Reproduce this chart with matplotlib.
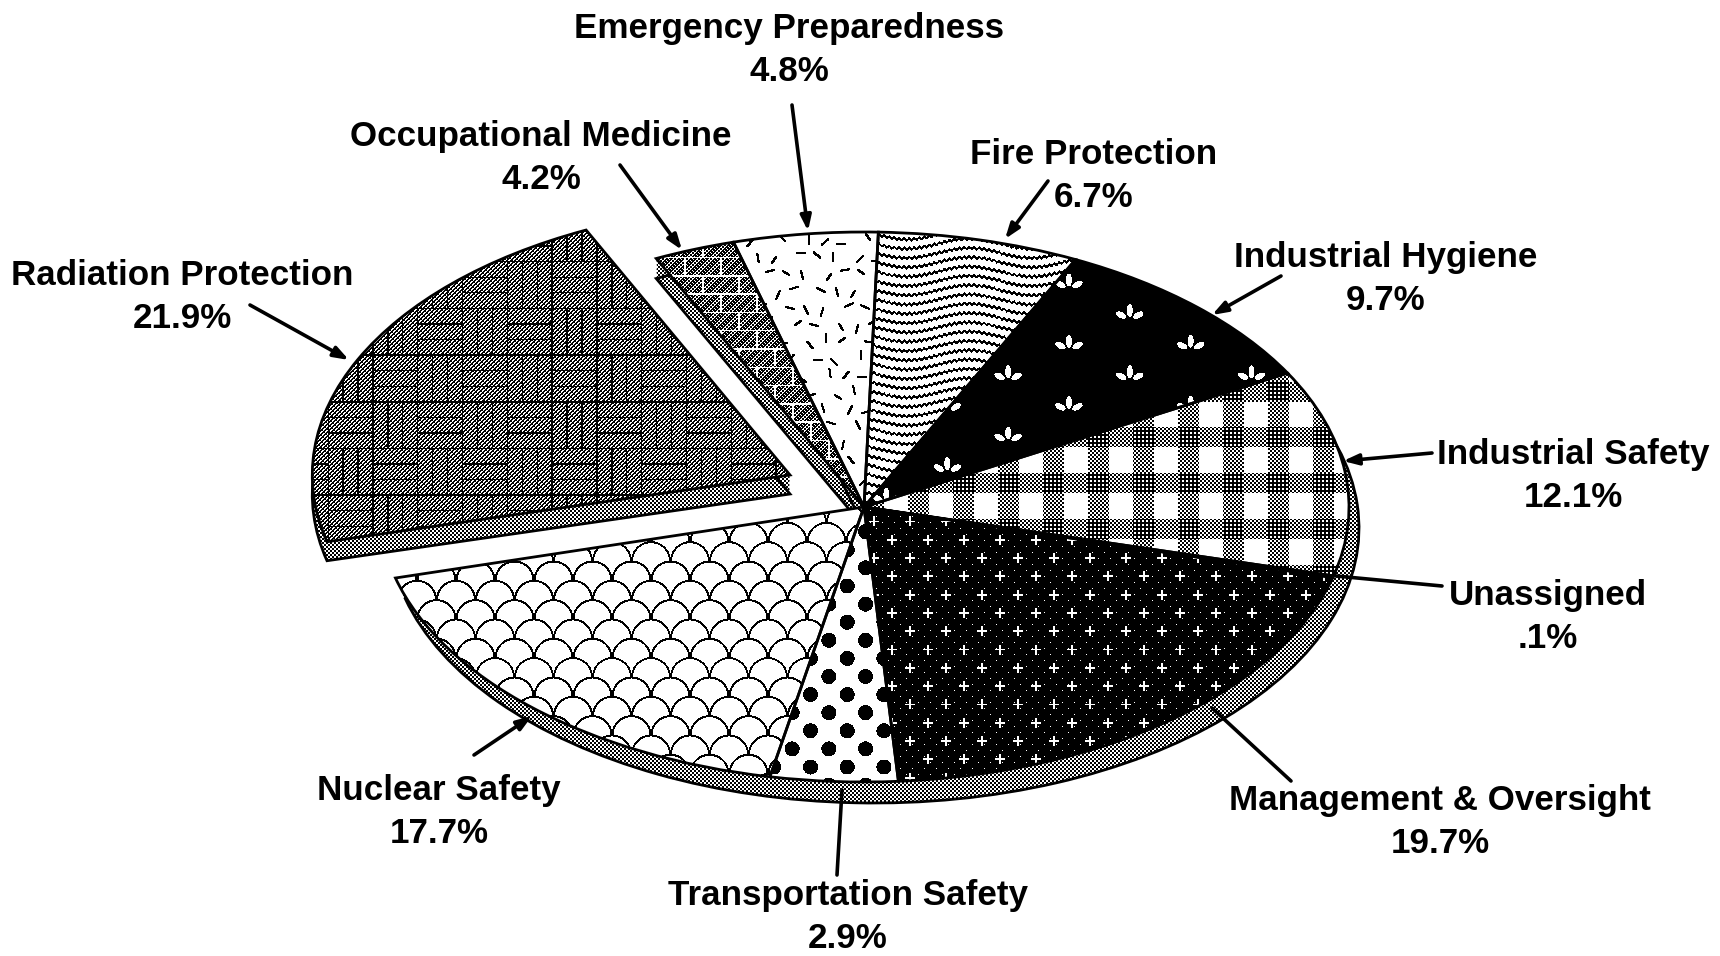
import numpy as np
import matplotlib
matplotlib.use("Agg")
import matplotlib.pyplot as plt
from matplotlib.path import Path
from matplotlib.patches import PathPatch, Wedge
from matplotlib.transforms import Affine2D

# ---- data (clockwise from the top of the pie) ----
categories = ["Fire Protection", "Industrial Hygiene", "Industrial Safety", "Unassigned",
              "Management & Oversight", "Transportation Safety", "Nuclear Safety",
              "Radiation Protection", "Occupational Medicine", "Emergency Preparedness"]
shares = [6.7, 9.7, 12.1, 0.1, 19.7, 2.9, 17.7, 21.9, 4.2, 4.8]

# ---- layout (pixels of the 1720x956 canvas) ----
W, H = 1720, 956
CX, CY, A, B = 864.0, 507.0, 485.0, 275.0
label_xy = [(1094, 176), (1386, 279), (1573, 476), (1548, 617), (1440, 822),
            (848, 917), (439, 812), (182, 297), (541, 158), (789, 50)]
label_font = 25.2
label_spacing = 1.42
arrows = [  # start, tip, head
    ((1048, 181), (1005, 239), True),
    ((1281, 276), (1212, 315), True),
    ((1432, 453), (1343, 461), True),
    ((1442, 586), (1336, 576), False),
    ((1291, 781), (1212, 708), False),
    ((837, 875), (842, 790), False),
    ((474, 755), (532, 716), True),
    ((250, 305), (349, 360), True),
    ((620, 165), (682, 250), True),
    ((792, 105), (808, 231), True),
]
# how far the slices as printed sit from their exact shares, in degrees (start, end)
angle_nudge = {5: (-4.8, 0.0), 6: (-4.8, -4.8), 7: (-5.5, -5.5), 8: (0.0, -5.4)}
pulled_apex_px = (790, 475)
pulled_radius = 0.985

Y, X = np.mgrid[0:H, 0:W].astype(float)
checker = ((X // 2 + Y // 2) % 2).astype(float)


def tex_waves():
    phase = Y - 5 * np.sin(2 * np.pi * X / 125) - 0.9 * np.sin(2 * np.pi * X / 5)
    return np.where(phase % 9.3 < 2.8, 0.0, 1.0)


def lattice(x0, y0, px, py):
    r = np.round((Y - y0) / py)
    dx = ((X - x0 - (r % 2) * px / 2 + px / 2) % px) - px / 2
    return dx, Y - y0 - r * py


def tex_flowers():
    dx, dy = lattice(1129.3, 373.3, 121.7, 30.6)
    t = np.zeros((H, W))
    centre = (dx / 3.0) ** 2 + ((dy + 2) / 6.5) ** 2 < 1
    out = []
    for s in (-1, 1):
        a = np.deg2rad(-28)
        u = (s * dx - 8.5) * np.cos(a) + (dy - 2.5) * np.sin(a)
        v = -(s * dx - 8.5) * np.sin(a) + (dy - 2.5) * np.cos(a)
        out.append((u / 5.6) ** 2 + (v / 3.0) ** 2 < 1)
    t[centre | out[0] | out[1]] = 1
    return t


def tex_gingham():
    v = ((X - 953) % 45) < 20.7
    h = ((Y - 427) % 45.7) < 20
    t = np.ones((H, W))
    t[v ^ h] = checker[v ^ h]
    dark = checker * ((X // 2) % 2)
    t[v & h] = dark[v & h]
    return t


def tex_plus():
    dx, dy = lattice(891.7, 539.3, 36.0, 18.3)
    t = np.zeros((H, W))
    t[((X % 6 < 1) & (Y % 6 < 1) & ((X + Y) % 12 < 1))] = 1
    plus = ((np.abs(dx) <= 5) & (np.abs(dy) <= 0.9)) | ((np.abs(dy) <= 5) & (np.abs(dx) <= 0.9))
    t[plus] = 1
    return t


def tex_dots():
    dx, dy = lattice(846.7, 621.7, 36.7, 18.1)
    return np.where(np.hypot(dx, dy) < 7.5, 0.0, 1.0)


def tex_scales():
    t = np.ones((H, W))
    for m in range(-6, 17):
        cy = 580 + m * 19.33
        x0 = 553 + (m % 2) * 19.5
        dx = ((X - x0 + 19.5) % 39) - 19.5
        d = np.hypot(dx, Y - cy)
        up = Y <= cy
        t[up & (d <= 19.5)] = 1
        t[up & (np.abs(d - 19) <= 1.0)] = 0
    return t


def tex_parquet():
    t = (((X + Y) % 4 < 2) & ((X - Y) % 6 > 0)).astype(float)
    ry = (Y - 260.5) / 46.7
    rx = (X - 371.8) / 44.8
    r, c = np.floor(ry), np.floor(rx)
    yy, xx = ry - r, rx - c
    horiz = (r + c) % 2 == 0
    black = (horiz & ((yy * 3) % 1 < 0.085)) | (~horiz & ((xx * 3) % 1 < 0.085)) | (yy < 0.03) | (xx < 0.03)
    t[black] = 0
    return t


def tex_brick():
    t = checker * (((X + Y) % 3) > 0)
    r = np.floor(Y / 18.3)
    t[(Y % 18.3) < 1.5] = 1
    t[((X + (r % 2) * 18) % 36) < 1.5] = 1
    return t


def tex_dashes():
    t = np.ones((H, W))
    for i in range(0, 12):
        for j in range(0, 18):
            x = 715 + i * 20 + (j % 2) * 10 + ((i * 7 + j * 13) % 11) - 5
            y = 222 + j * 17 + ((i * 11 + j * 5) % 9) - 4
            a = np.deg2rad((i * 47 + j * 83) % 180)
            for s in np.linspace(-4, 4, 25):
                u, v = int(round(x + s * np.cos(a))), int(round(y + s * np.sin(a)))
                t[v:v + 2, u:u + 2] = 0
    return t


textures = [tex_waves(), tex_flowers(), tex_gingham(), np.ones((H, W)), tex_plus(),
            tex_dots(), tex_scales(), tex_parquet(), tex_brick(), tex_dashes()]

plt.rcParams["font.family"] = ["Liberation Sans", "DejaVu Sans"]
fig = plt.figure(figsize=(W / 100, H / 100), dpi=100, facecolor="white")
ax = fig.add_axes([0, 0, 1, 1])
wedges, _ = ax.pie(shares, startangle=88.3, counterclock=False, radius=1,
                   wedgeprops=dict(facecolor="none", edgecolor="black", linewidth=2.0, zorder=4))
ax.set_aspect("auto")
xlim = (-CX / A, (W - CX) / A)
ylim = ((CY - H) / B, CY / B)

for i, (d1, d2) in angle_nudge.items():
    wedges[i].set_theta1(wedges[i].theta1 + d1)
    wedges[i].set_theta2(wedges[i].theta2 + d2)
wedges[7].set_center(((pulled_apex_px[0] - CX) / A, (CY - pulled_apex_px[1]) / B))
wedges[7].set_radius(pulled_radius)


def sweep(paths, dx, dy, steps=14):
    out = []
    for p in paths:
        for f in np.linspace(0, 1, steps):
            out.append(p.transformed(Affine2D().translate(f * dx / A, -f * dy / B)))
    return Path.make_compound_path(*out)


def add_texture(tex, clip, z):
    im = ax.imshow(tex, cmap="gray", vmin=0, vmax=1, extent=(xlim[0], xlim[1], ylim[0], ylim[1]),
                   origin="upper", interpolation="nearest", aspect="auto", zorder=z)
    im.set_clip_path(clip)
    return im


def add_rim(path, dx, dy):
    swept = PathPatch(sweep([path], dx, dy), facecolor="none", edgecolor="none", transform=ax.transData)
    ax.add_patch(swept)
    add_texture(checker, swept, 1.2)
    shift = Affine2D().translate(dx / A, -dy / B)
    ax.add_patch(PathPatch(path.transformed(shift), facecolor="none", edgecolor="black",
                           linewidth=2.0, zorder=1.3))


body = Wedge((0, 0), 1, wedges[6].theta1, wedges[2].theta2).get_path()
add_rim(body, 10, 21)
add_rim(wedges[7].get_path(), 0, 19)
add_rim(wedges[8].get_path(), 0, 20)

for w, tex in zip(wedges, textures):
    add_texture(tex, w, 3)

ax.set_xlim(*xlim)
ax.set_ylim(*ylim)
ax.axis("off")

px = Affine2D().scale(1 / W, -1 / H).translate(0, 1) + fig.transFigure
for name, val, (x, y) in zip(categories, shares, label_xy):
    pct = f"{val:.1f}"
    pct = pct[1:] if pct.startswith("0") else pct
    ax.text(x, y, f"{name}\n{pct}%", transform=px, ha="center", va="center", fontsize=label_font,
            fontweight="bold", color="black", linespacing=label_spacing, zorder=6)
for start, tip, head in arrows:
    style = "-|>,head_length=0.9,head_width=0.32" if head else "-"
    ax.annotate("", xy=tip, xytext=start, xycoords=px, textcoords=px, zorder=5,
                arrowprops=dict(arrowstyle=style, lw=2.6, color="black", shrinkA=0, shrinkB=0))

fig.savefig("out.png", dpi=100, facecolor="white")
